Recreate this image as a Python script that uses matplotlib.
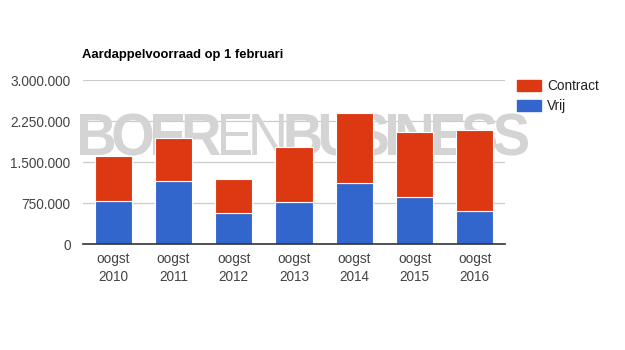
import matplotlib.pyplot as plt
import matplotlib.patches as mpatches
from matplotlib.textpath import TextPath, text_to_path
from matplotlib.font_manager import FontProperties
from matplotlib.transforms import Affine2D

# data
jaren = ['oogst\n2010', 'oogst\n2011', 'oogst\n2012', 'oogst\n2013',
         'oogst\n2014', 'oogst\n2015', 'oogst\n2016']
vrij = [782000, 1149000, 562000, 764000, 1112000, 856000, 599000]
contract = [836000, 794000, 635000, 1019000, 1294000, 1202000, 1496000]
y_ticks = [0, 750000, 1500000, 2250000, 3000000]

rood = '#dc3912'
blauw = '#3366cc'

plt.rcParams['font.family'] = ['Liberation Sans', 'DejaVu Sans']

fig = plt.figure(figsize=(6.25, 3.5), dpi=100)
ax = fig.add_axes([83 / 625, 1 - 244 / 350, 422 / 625, (244 - 80.3) / 350])

x = range(len(jaren))
ax.bar(x, vrij, width=0.615, color=blauw, edgecolor='white', linewidth=0.8, zorder=3)
ax.bar(x, contract, bottom=vrij, width=0.615, color=rood, edgecolor='white',
       linewidth=0.8, zorder=3)

ax.set_xlim(-0.5, len(jaren) - 0.5)
ax.set_ylim(0, 3000000)
ax.set_yticks(y_ticks)
ax.set_yticklabels(['{:,}'.format(v).replace(',', '.') for v in y_ticks])
ax.set_xticks(list(x))
ax.set_xticklabels(jaren, linespacing=1.3)
ax.tick_params(length=0, labelsize=9.8, colors='#444444')
ax.tick_params(axis='y', pad=9)
ax.tick_params(axis='x', pad=6)
ax.grid(axis='y', color='#cccccc', linewidth=0.9, zorder=0)
for s in ['top', 'right', 'left']:
    ax.spines[s].set_visible(False)
ax.spines['bottom'].set_color('#333333')
ax.spines['bottom'].set_linewidth(1.2)
ax.spines['bottom'].set_zorder(4)

# watermark "BOERENBUSINESS" achter de staven, letters dicht op elkaar
wm_kleur = '#d4d4d4'
vet = FontProperties(family='Liberation Sans', weight='bold', size=100)
dun = FontProperties(family='Liberation Sans', weight='normal', size=100)
letters = [(c, vet) for c in 'BOER'] + [(c, dun) for c in 'EN'] + [(c, vet) for c in 'BUSINESS']
paden = []
pos = 0
for c, prop in letters:
    paden.append(TextPath((pos, 0), c, prop=prop))
    pos += text_to_path.get_text_width_height_descent(c, prop, ismath=False)[0] - 10
xmin = paden[0].get_extents().xmin
xmax = paden[-1].get_extents().xmax
cap = TextPath((0, 0), 'B', prop=vet).get_extents().ymax
wm_trans = (Affine2D().translate(-xmin, 0)
            .scale(448 / (xmax - xmin), 41 / cap).translate(80, 350 - 155))
for p in paden:
    ax.add_patch(mpatches.PathPatch(p, transform=wm_trans, facecolor=wm_kleur,
                                    edgecolor='none', zorder=2, clip_on=False))

fig.text(82 / 625, 1 - 55 / 350, 'Aardappelvoorraad op 1 februari', fontsize=9.4,
         fontweight='bold', color='black', va='center')

handles = [mpatches.Patch(color=rood, label='Contract'),
           mpatches.Patch(color=blauw, label='Vrij')]
fig.legend(handles=handles, loc='upper left', bbox_to_anchor=(517 / 625, 1 - 79 / 350),
           frameon=False, fontsize=9.8, handlelength=1.75, handleheight=0.9,
           labelspacing=0.45, handletextpad=0.45, borderpad=0, borderaxespad=0,
           labelcolor='#222222')

fig.savefig('out.png', dpi=100)
